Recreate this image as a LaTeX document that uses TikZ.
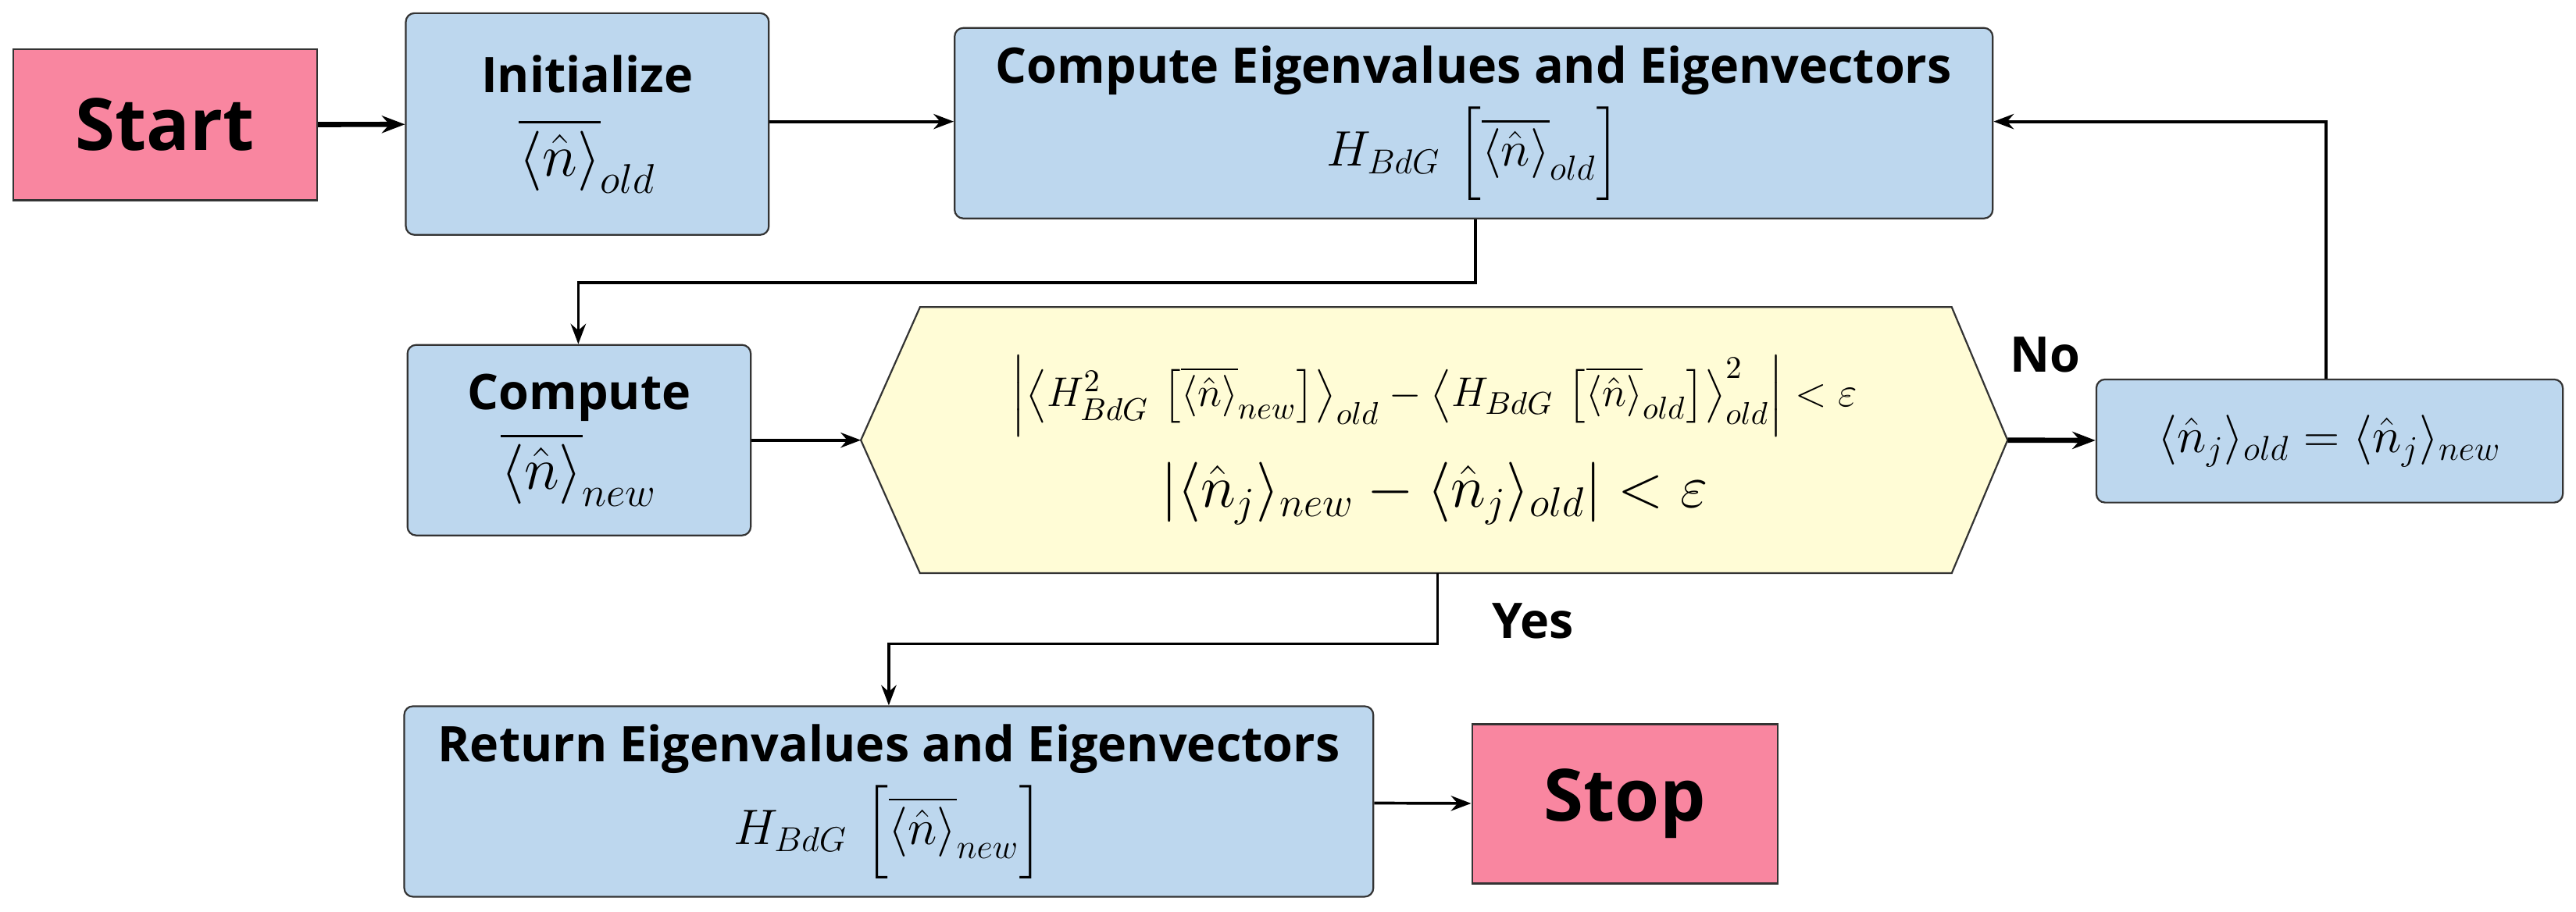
\documentclass[tikz,border=0pt]{standalone}
\usepackage{amsmath,amssymb}
\usepackage{fontspec}
\setmainfont{Open Sans}
\usepackage{tikz}
\usetikzlibrary{arrows.meta}
\definecolor{boxblue}{RGB}{189,215,238}
\definecolor{boxpink}{RGB}{249,134,160}
\definecolor{hexyellow}{RGB}{255,252,214}
\tikzset{
  proc/.style={draw=black!80, fill=boxblue, rounded corners=3pt, align=center, line width=0.6pt},
  term/.style={draw=black!80, fill=boxpink, line width=0.6pt, font=\fontsize{25}{30}\selectfont\bfseries},
  head/.style={font=\fontsize{17}{20}\selectfont\bfseries},
  flow/.style={-{Stealth[length=7pt]}, line width=1pt},
  bigflow/.style={-{Stealth[length=8pt]}, line width=1.8pt}
}
\newcommand{\nbar}[1]{\overline{\langle\hat n\rangle}_{#1}}
\begin{document}
\begin{tikzpicture}[x=0.02cm,y=-0.02cm]
\useasboundingbox (0,0) rectangle (1568,555);

% Boxes
\node[term, minimum width=3.7cm, minimum height=1.84cm] (start) at (100.5,76) {Start};
\node[proc, minimum width=4.42cm, minimum height=2.7cm] (init) at (357.5,75.5)
  {{\fontsize{17}{20}\selectfont\bfseries Initialize}\\[8pt]{\fontsize{21}{24}\selectfont$\nbar{old}$}};
\node[proc, minimum width=12.64cm, minimum height=2.32cm] (eig) at (897,75)
  {{\fontsize{17}{20}\selectfont\bfseries Compute Eigenvalues and Eigenvectors}\\[3pt]{\fontsize{18}{21}\selectfont$H_{BdG}\,\left[\nbar{old}\right]$}};
\node[proc, minimum width=4.18cm, minimum height=2.32cm] (new) at (352.5,268)
  {{\fontsize{17}{20}\selectfont\bfseries Compute}\\[3pt]{\fontsize{21}{24}\selectfont$\nbar{new}$}};
\node[proc, minimum width=5.68cm, minimum height=1.5cm] (upd) at (1418,268.5)
  {{\fontsize{18}{21}\selectfont$\langle\hat n_j\rangle_{old}=\langle\hat n_j\rangle_{new}$}};
\node[proc, minimum width=11.8cm, minimum height=2.32cm] (ret) at (541,488)
  {{\fontsize{17}{20}\selectfont\bfseries Return Eigenvalues and Eigenvectors}\\[3pt]{\fontsize{18}{21}\selectfont$H_{BdG}\,\left[\nbar{new}\right]$}};
\node[term, minimum width=3.72cm, minimum height=1.94cm] (stop) at (989,489.5) {Stop};

% Decision hexagon
\coordinate (hL) at (524,268);
\coordinate (hR) at (1222,268);
\coordinate (hT) at (875,187);
\coordinate (hB) at (875,349);
\draw[fill=hexyellow, draw=black!80, line width=0.6pt]
  (hL) -- (560,187) -- (1188,187) -- (hR) -- (1188,349) -- (560,349) -- cycle;
\node[align=center] (cond) at (873,268)
  {{\fontsize{15.5}{18}\selectfont$\left|\left\langle H^2_{BdG}\,\left[\nbar{new}\right]\right\rangle_{old}-\left\langle H_{BdG}\,\left[\nbar{old}\right]\right\rangle^2_{old}\right|<\varepsilon$}\\[8pt]
   {\fontsize{22}{26}\selectfont$\left|\langle\hat n_j\rangle_{new}-\langle\hat n_j\rangle_{old}\right|<\varepsilon$}};

% Connectors
\draw[bigflow] (start) -- (init);
\draw[flow] (init.east |- 0,74) -- (eig.west |- 0,74);
\draw[flow] (eig.south -| 898,0) -- (898,172) -- (352,172) -- (new.north -| 352,0);
\draw[flow] (new) -- (hL);
\draw[bigflow] (hR) -- (upd);
\draw[flow] (upd.north -| 1416,0) -- (1416,74) -- (eig.east |- 0,74);
\draw[flow] (hB) -- (875,392) -- (541,392) -- (ret.north);
\draw[flow] (ret) -- (stop);

% Labels
\node[head] (no) at (1245,216) {No};
\node[head] (yes) at (933,378) {Yes};
\end{tikzpicture}
\end{document}
